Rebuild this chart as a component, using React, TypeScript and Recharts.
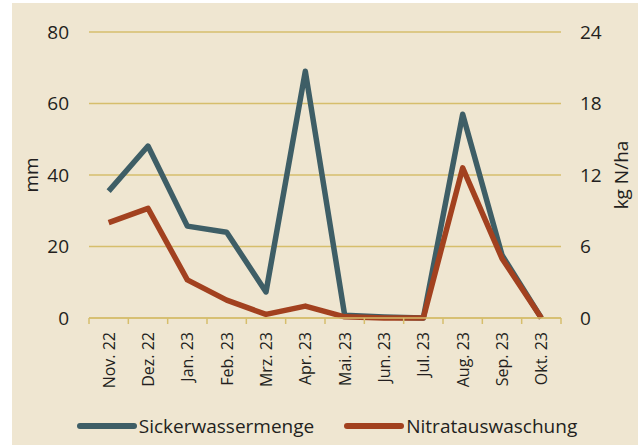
import { CartesianGrid, Line, LineChart, XAxis, YAxis } from "recharts"

const months = ["Nov. 22", "Dez. 22", "Jan. 23", "Feb. 23", "Mrz. 23", "Apr. 23", "Mai. 23", "Jun. 23", "Jul. 23", "Aug. 23", "Sep. 23", "Okt. 23"]
const sickerwasser = [35.5, 48.1, 25.7, 24, 7.3, 69, 0.8, 0.3, 0, 57, 17.6, 0]
const nitrat = [8.0, 9.2, 3.2, 1.5, 0.3, 1.0, 0.1, 0, 0, 12.6, 5.0, 0]
const leftTicks = [0, 20, 40, 60, 80]
const rightTicks = [0, 6, 12, 18, 24]

const data = months.map((month, i) => ({
  month,
  sickerwasser: sickerwasser[i],
  nitrat: nitrat[i],
}))

const BG = "#EFE6D1"
const GOLD = "#D6BE6C"
const TEAL = "#3E5E66"
const RUST = "#A2411F"
const TEXT = "#231F20"
const FONT = "'Open Sans', 'Noto Sans', sans-serif"

const WIDTH = 626
const AXIS_W = 77
const BAND = (WIDTH - 2 * AXIS_W) / months.length

function MonthTick(props: any) {
  const { x, y, payload, index } = props
  const half = BAND / 2
  return (
    <g>
      <line x1={x - half} x2={x - half} y1={y} y2={y + 6} stroke={GOLD} strokeWidth={1.5} />
      {index === months.length - 1 && (
        <line x1={x + half} x2={x + half} y1={y} y2={y + 6} stroke={GOLD} strokeWidth={1.5} />
      )}
      <text
        transform={`translate(${x},${y + 14}) rotate(-90)`}
        textAnchor="end"
        dominantBaseline="central"
        fontSize={16}
        fill={TEXT}
      >
        {payload.value}
      </text>
    </g>
  )
}

function LegendItem({ color, label }: { color: string; label: string }) {
  return (
    <div style={{ display: "flex", alignItems: "center" }}>
      <svg width={60} height={10} style={{ marginRight: 2 }}>
        <line x1={3} x2={57} y1={5} y2={5} stroke={color} strokeWidth={6} strokeLinecap="round" />
      </svg>
      <span style={{ fontSize: 19, color: TEXT }}>{label}</span>
    </div>
  )
}

export default function App() {
  return (
    <div
      style={{
        position: "absolute",
        left: 12,
        top: 3,
        width: WIDTH,
        height: 442,
        background: BG,
        fontFamily: FONT,
      }}
    >
      <LineChart width={WIDTH} height={400} data={data} margin={{ top: 29, right: 0, bottom: 0, left: 0 }}>
        <CartesianGrid yAxisId="left" vertical={false} stroke={GOLD} strokeWidth={1.5} />
        <XAxis
          dataKey="month"
          scale="band"
          interval={0}
          height={85}
          tickLine={false}
          tickSize={0}
          tickMargin={0}
          axisLine={{ stroke: GOLD, strokeWidth: 1.5 }}
          tick={<MonthTick />}
        />
        <YAxis
          yAxisId="left"
          width={AXIS_W}
          domain={[0, 80]}
          ticks={leftTicks}
          axisLine={false}
          tickLine={false}
          tickSize={0}
          tickMargin={20}
          tick={{ fill: TEXT, fontSize: 19 }}
          label={{ value: "mm", angle: -90, position: "center", dx: -19.5, fill: TEXT, fontSize: 19 }}
        />
        <YAxis
          yAxisId="right"
          orientation="right"
          width={AXIS_W}
          domain={[0, 24]}
          ticks={rightTicks}
          axisLine={false}
          tickLine={false}
          tickSize={0}
          tickMargin={19}
          tick={{ fill: TEXT, fontSize: 19 }}
          label={{ value: "kg N/ha", angle: -90, position: "center", dx: 21.5, fill: TEXT, fontSize: 19 }}
        />
        <Line
          yAxisId="left"
          type="linear"
          dataKey="sickerwasser"
          name="Sickerwassermenge"
          stroke={TEAL}
          strokeWidth={5.5}
          strokeLinejoin="round"
          dot={false}
          activeDot={false}
          isAnimationActive={false}
        />
        <Line
          yAxisId="right"
          type="linear"
          dataKey="nitrat"
          name="Nitratauswaschung"
          stroke={RUST}
          strokeWidth={5.5}
          strokeLinejoin="round"
          dot={false}
          activeDot={false}
          isAnimationActive={false}
        />
      </LineChart>
      <div
        style={{
          display: "flex",
          justifyContent: "center",
          gap: 30,
          marginTop: 10,
          marginLeft: 4,
        }}
      >
        <LegendItem color={TEAL} label="Sickerwassermenge" />
        <LegendItem color={RUST} label="Nitratauswaschung" />
      </div>
    </div>
  )
}
